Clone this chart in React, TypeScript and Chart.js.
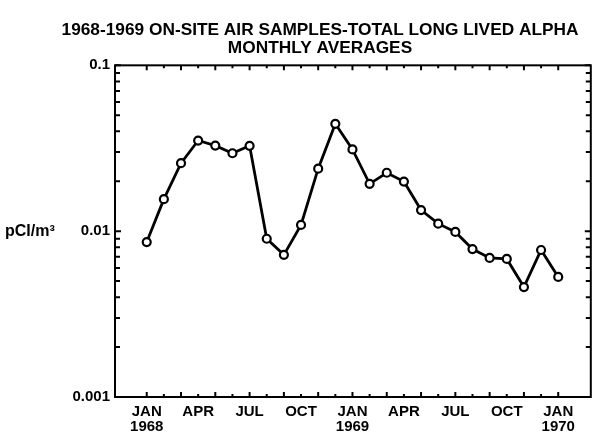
import React, { useEffect, useRef } from "react";
import { Chart, registerables } from "chart.js";

Chart.register(...registerables);

// Month index: 0 = Jan 1968 ... 24 = Jan 1970
const monthIndex = [0, 1, 2, 3, 4, 5, 6, 7, 8, 9, 10, 11, 12, 13, 14, 15, 16, 17, 18, 19, 20, 21, 22, 23, 24];
const alphaValues = [
  0.0086, 0.0156, 0.0257, 0.0352, 0.0328, 0.0295, 0.0327, 0.0090, 0.0072, 0.0109,
  0.0238, 0.0444, 0.0311, 0.0193, 0.0225, 0.0199, 0.0134, 0.0111, 0.0099, 0.0078,
  0.0069, 0.0068, 0.0046, 0.0077, 0.0053,
];
const xTickMonths = [0, 3, 6, 9, 12, 15, 18, 21, 24];
const xTickLabels: (string | string[])[] = [
  ["JAN", "1968"], "APR", "JUL", "OCT", ["JAN", "1969"], "APR", "JUL", "OCT", ["JAN", "1970"],
];
const yTickValues = [0.001, 0.01, 0.1];
const yTickLabels = ["0.001", "0.01", "0.1"];
const titleLines = ["1968-1969 ON-SITE AIR SAMPLES-TOTAL LONG LIVED ALPHA", "MONTHLY AVERAGES"];
const yAxisLabel = "pCI/m³";

const FONT = "'Liberation Sans', Arial, sans-serif";

const framePlugin = {
  id: "framePlugin",
  afterDraw(chart: any) {
    const { ctx, chartArea } = chart;
    const xs = chart.scales.x;
    const ys = chart.scales.y;
    const { left, right, top, bottom } = chartArea;
    ctx.save();
    ctx.strokeStyle = "#000";
    ctx.lineWidth = 2;
    ctx.strokeRect(left, top, right - left, bottom - top);
    ctx.lineWidth = 2;
    ctx.beginPath();
    monthIndex.forEach((m) => {
      const px = xs.getPixelForValue(m);
      const len = m % 2 === 0 ? 5 : 3;
      ctx.moveTo(px, bottom);
      ctx.lineTo(px, bottom - len);
      ctx.moveTo(px, top);
      ctx.lineTo(px, top + len);
    });
    const decades = [0.001, 0.01];
    decades.forEach((d) => {
      for (let k = 2; k <= 9; k++) {
        const py = ys.getPixelForValue(k * d);
        ctx.moveTo(left, py);
        ctx.lineTo(left + 5, py);
        ctx.moveTo(right, py);
        ctx.lineTo(right - 5, py);
      }
    });
    yTickValues.forEach((v) => {
      const py = ys.getPixelForValue(v);
      ctx.moveTo(left, py);
      ctx.lineTo(left + 6, py);
      ctx.moveTo(right, py);
      ctx.lineTo(right - 6, py);
    });
    ctx.stroke();
    ctx.fillStyle = "#000";
    ctx.font = `bold 16px ${FONT}`;
    ctx.textBaseline = "middle";
    ctx.textAlign = "left";
    ctx.fillText(yAxisLabel, 5, ys.getPixelForValue(0.01));
    ctx.restore();
  },
};

export default function App() {
  const ref = useRef<HTMLCanvasElement | null>(null);
  useEffect(() => {
    if (!ref.current) return;
    const chart = new Chart(ref.current, {
      type: "line",
      data: {
        datasets: [
          {
            data: monthIndex.map((m, i) => ({ x: m, y: alphaValues[i] })),
            borderColor: "#000",
            borderWidth: 2.8,
            pointRadius: 4,
            pointBorderWidth: 2.2,
            pointBackgroundColor: "#fff",
            pointBorderColor: "#000",
            tension: 0,
          },
        ],
      },
      options: {
        responsive: false,
        animation: false,
        devicePixelRatio: 1,
        layout: { padding: { left: 47, right: 4, top: 0, bottom: 0 } },
        plugins: {
          legend: { display: false },
          tooltip: { enabled: false },
          title: {
            display: true,
            text: titleLines,
            color: "#000",
            font: { family: FONT, size: 17.3, weight: "bold", lineHeight: 1.05 },
            padding: { top: 21, bottom: 8 },
          },
        },
        scales: {
          x: {
            type: "linear",
            min: -1.85,
            max: 25.9,
            grid: { display: false, drawTicks: false },
            border: { display: false },
            afterBuildTicks: (scale: any) => {
              scale.ticks = xTickMonths.map((v) => ({ value: v }));
            },
            afterFit: (scale: any) => {
              scale.height = 43;
            },
            ticks: {
              autoSkip: false,
              maxRotation: 0,
              minRotation: 0,
              padding: 8,
              color: "#000",
              font: { family: FONT, size: 15, weight: "bold", lineHeight: 0.95 },
              callback: (value: any) => {
                const i = xTickMonths.indexOf(Number(value));
                return i >= 0 ? xTickLabels[i] : "";
              },
            },
          },
          y: {
            type: "logarithmic",
            min: 0.001,
            max: 0.1,
            grid: { display: false, drawTicks: false },
            border: { display: false },
            afterBuildTicks: (scale: any) => {
              scale.ticks = yTickValues.map((v) => ({ value: v }));
            },
            afterFit: (scale: any) => {
              scale.width = 68;
            },
            ticks: {
              autoSkip: false,
              padding: 5,
              color: "#000",
              font: { family: FONT, size: 15, weight: "bold" },
              callback: (value: any) => {
                const i = yTickValues.findIndex((v) => Math.abs(v - Number(value)) < v * 1e-6);
                return i >= 0 ? yTickLabels[i] : "";
              },
            },
          },
        },
      },
      plugins: [framePlugin],
    });
    return () => chart.destroy();
  }, []);
  return (
    <div style={{ position: "fixed", left: 0, top: 0, width: 597, height: 440, background: "#fff" }}>
      <canvas ref={ref} width={597} height={440} />
    </div>
  );
}
